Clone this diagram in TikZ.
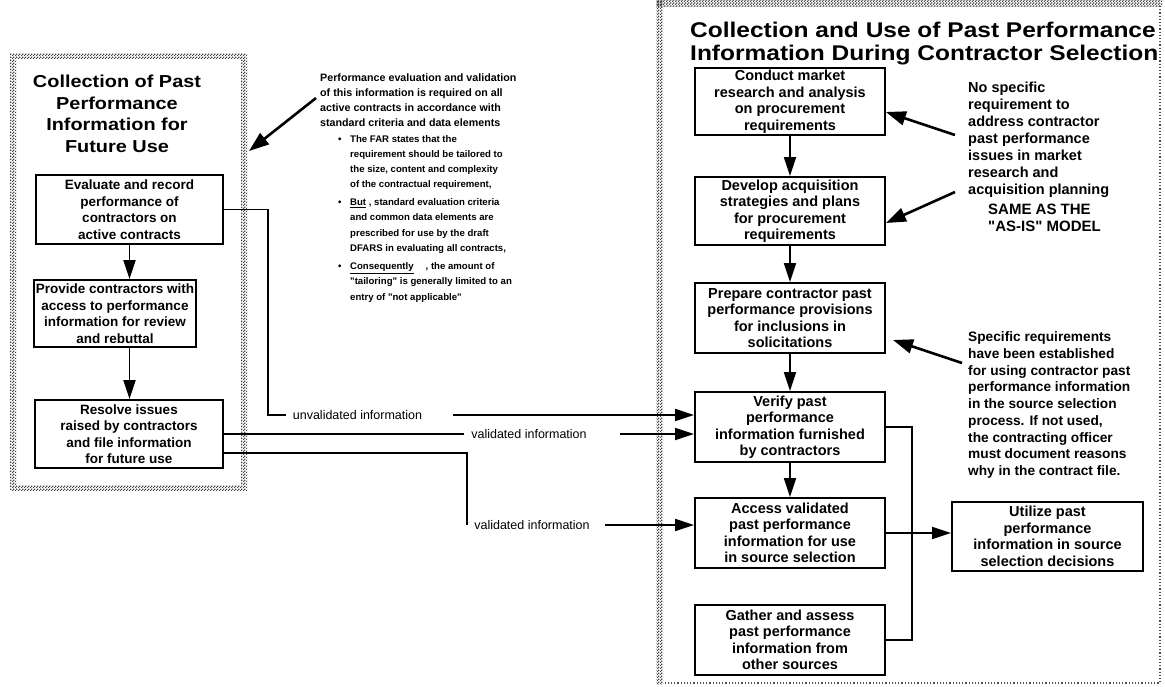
\documentclass[tikz,border=0pt]{standalone}
\usepackage{fontspec}
\setmainfont{Liberation Sans}
\newfontfamily\headfont{Liberation Sans}[FakeStretch=1.15]
\usetikzlibrary{arrows.meta,positioning,patterns}

\pgfdeclarepatternformonly{stip}{\pgfqpoint{0pt}{0pt}}{\pgfqpoint{3pt}{3pt}}{\pgfqpoint{3pt}{3pt}}{%
  \pgfpathrectangle{\pgfqpoint{0pt}{0pt}}{\pgfqpoint{1.5pt}{1.5pt}}%
  \pgfpathrectangle{\pgfqpoint{1.5pt}{1.5pt}}{\pgfqpoint{1.5pt}{1.5pt}}%
  \pgfusepath{fill}}

\newcommand{\bitem}{\makebox[12pt][l]{\textbullet}}
\newcommand{\bind}{\hspace*{12pt}}
\newcommand{\qq}[1]{\textquotedbl#1\textquotedbl}

\tikzset{
  procbox/.style={draw, line width=1.8pt, align=center, inner sep=2pt,
    font=\bfseries\fontsize{13.5}{16.5}\selectfont},
  bigtext/.style={font=\bfseries\fontsize{14.5}{16.5}\selectfont},
  flow/.style={line width=1.8pt, -{Triangle[length=19pt,width=12pt]}},
  wire/.style={line width=1.8pt},
  pointer/.style={line width=2.6pt, -{Triangle[length=20pt,width=14pt]}},
  note/.style={anchor=west, align=left, inner sep=0pt},
  wirelabel/.style={inner xsep=7pt, inner ysep=0pt, font=\fontsize{12.5}{14}\selectfont},
  stipple/.style={pattern=stip, pattern color=black!75},
}

\begin{document}
\begin{tikzpicture}[x=1pt,y=-1pt]
\useasboundingbox (0,0) rectangle (1165,686);
% panel frames
\fill[stipple,even odd rule] (10,53) rectangle (247,491) (16,59) rectangle (241,485);
\fill[stipple] (656,0) rectangle (1162,6);
\fill[stipple] (656,0) rectangle (663,684);
\draw[black!70,line width=1.2pt,dotted] (1160,6) -- (1160,683) -- (663,683);

% titles
\node[font=\headfont\bfseries\fontsize{17.3}{21.5}\selectfont, align=center] (lefttitle) at (117,114)
  {Collection of Past\\Performance\\Information for\\Future Use};
\node[note, font=\headfont\bfseries\fontsize{21.3}{23}\selectfont] (righttitle) at (690,44)
  {Collection and Use of Past Performance\\Information During Contractor Selection};

% left panel: collection
\node[procbox, minimum width=187pt, minimum height=69pt] (evalrec) at (129.5,209.5)
  {Evaluate and record\\performance of\\contractors on\\active contracts};
\node[procbox, minimum width=160pt, minimum height=67pt] (provide) at (115,313.5)
  {Provide contractors with\\access to performance\\information for review\\and rebuttal};
\node[procbox, minimum width=188pt, minimum height=68pt] (resolve) at (129,434)
  {Resolve issues\\raised by contractors\\and file information\\for future use};
\draw[flow] (evalrec.south) -- (evalrec.south |- provide.north);
\draw[flow] (evalrec.south |- provide.south) -- (evalrec.south |- resolve.north);

% middle notes
\node[note, font=\bfseries\fontsize{10.7}{15}\selectfont] (perfnote) at (320,100.5)
  {Performance evaluation and validation\\of this information is required on all\\active contracts in accordance with\\standard criteria and data elements};
\node[note, font=\bfseries\fontsize{9.6}{15.2}\selectfont] (farnote) at (338,162.5)
  {\bitem The FAR states that the\\\bind requirement should be tailored to\\\bind the size, content and complexity\\\bind of the contractual requirement,};
\node[note, font=\bfseries\fontsize{9.6}{15.5}\selectfont] (butnote) at (338,226)
  {\bitem\underline{But} , standard evaluation criteria\\\bind and common data elements are\\\bind prescribed for use by the draft\\\bind DFARS in evaluating all contracts,};
\node[note, font=\bfseries\fontsize{9.6}{15.5}\selectfont] (connote) at (338,282.5)
  {\bitem\underline{Consequently}\hspace{12pt}, the amount of\\\bind \qq{tailoring} is generally limited to an\\\bind entry of \qq{not applicable}};
\coordinate (perftail) at (316,98);
\coordinate (leftedge) at (249,151);
\draw[pointer] (perftail) -- (leftedge);

% right panel: contractor selection
\node[procbox, bigtext, minimum width=190pt, minimum height=67pt] (market) at (790,101.5)
  {Conduct market\\research and analysis\\on procurement\\requirements};
\node[procbox, bigtext, minimum width=190pt, minimum height=68pt] (plan) at (790,211)
  {Develop acquisition\\strategies and plans\\for procurement\\requirements};
\node[procbox, bigtext, minimum width=190pt, minimum height=70pt] (prep) at (790,318)
  {Prepare contractor past\\performance provisions\\for inclusions in\\solicitations};
\node[procbox, bigtext, minimum width=190pt, minimum height=70pt] (verify) at (790,427)
  {Verify past\\performance\\information furnished\\by contractors};
\node[procbox, bigtext, minimum width=190pt, minimum height=70pt] (access) at (790,533)
  {Access validated\\past performance\\information for use\\in source selection};
\node[procbox, bigtext, minimum width=190pt, minimum height=70pt] (gather) at (790,640)
  {Gather and assess\\past performance\\information from\\other sources};
\node[procbox, bigtext, minimum width=191pt, minimum height=69pt] (util) at (1047.5,536.5)
  {Utilize past\\performance\\information in source\\selection decisions};
\draw[flow] (market) -- (plan);
\draw[flow] (plan) -- (prep);
\draw[flow] (prep) -- (verify);
\draw[flow] (verify) -- (access);
\coordinate (bus) at (912,533);
\draw[wire] (verify.east) -| (bus);
\draw[wire] (gather.east) -| (bus);
\draw[flow] (access.east) -- (access.east -| util.west);

% information passed across
\node[wirelabel] (uvlab) at (357.5,415) {unvalidated information};
\node[wirelabel] (vallab1) at (529,434) {validated information};
\node[wirelabel] (vallab2) at (532,525) {validated information};
\coordinate (uvturn) at (268,415);
\coordinate (uvresume) at (453,415);
\coordinate (valresume1) at (620,434);
\coordinate (valresume2) at (605,525);
\draw[wire] (evalrec.east) -| (uvturn) -- (uvlab.west);
\draw[flow] (uvresume) -- (verify.west |- uvresume);
\draw[wire] (resolve.east) -- (vallab1.west);
\draw[flow] (valresume1) -- (verify.west |- valresume1);
\draw[wire] ([yshift=-19pt]resolve.east) -| (vallab2.west);
\draw[flow] (valresume2) -- (access.west |- valresume2);

% right notes
\node[note, font=\bfseries\fontsize{14.5}{17}\selectfont] (nospec) at (968,140)
  {No specific\\requirement to\\address contractor\\past performance\\issues in market\\research and\\acquisition planning};
\node[note, font=\bfseries\fontsize{15}{17}\selectfont] (sameas) at (988,217.5)
  {SAME AS THE\\\qq{AS-IS} MODEL};
\node[note, font=\bfseries\fontsize{13.7}{16.75}\selectfont] (specreq) at (968,405)
  {Specific requirements\\have been established\\for using contractor past\\performance information\\in the source selection\\process. If not used,\\the contracting officer\\must document reasons\\why in the contract file.};
\coordinate (mktail) at (955,135);
\coordinate (plantail) at (955,192);
\coordinate (preptail) at (962,363);
\coordinate (prephead) at (893,340);
\draw[pointer] (mktail) -- ([yshift=-10.5pt]market.east);
\draw[pointer] (plantail) -- ([yshift=-12pt]plan.east);
\draw[pointer] (preptail) -- (prephead);
\end{tikzpicture}
\end{document}
